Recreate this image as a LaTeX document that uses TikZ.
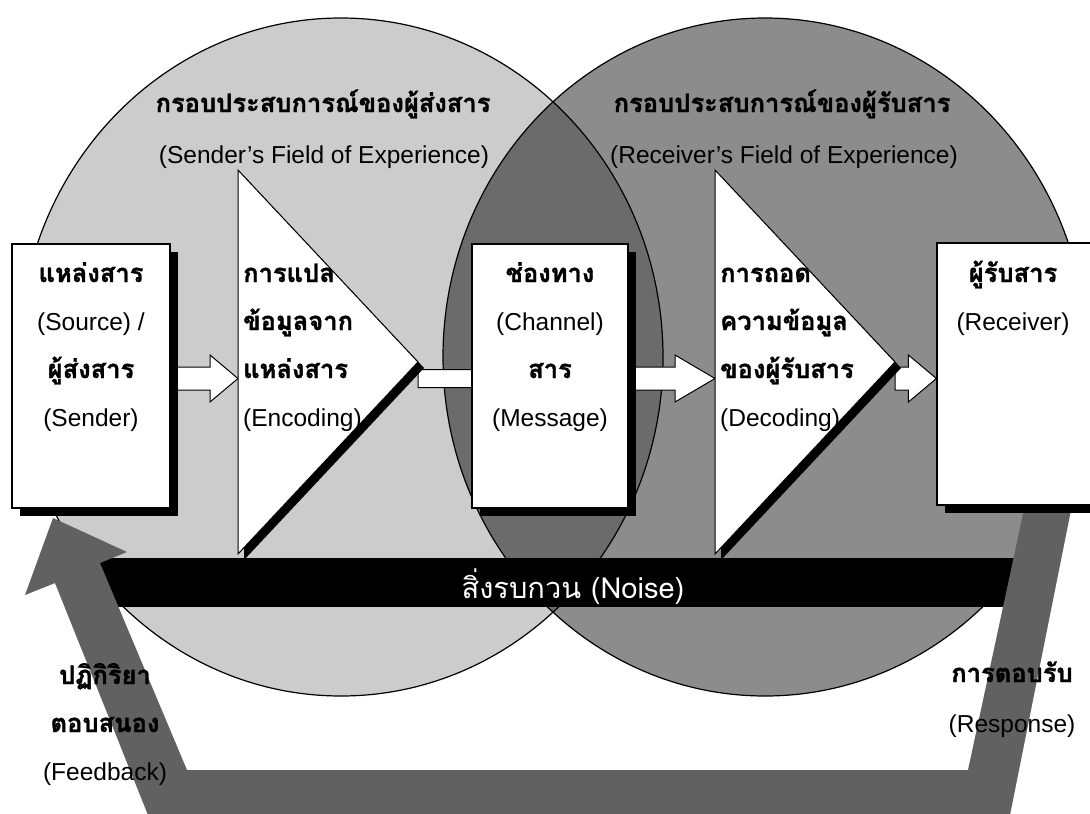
\documentclass[tikz,border=0pt]{standalone}
\usepackage{fontspec}
\setmainfont{Liberation Sans}
\newfontfamily\thaifont[Script=Thai, BoldFeatures={FakeBold=1.3}]{Loma}
\usetikzlibrary{calc,shadows}

\definecolor{senderfield}{gray}{0.80}
\definecolor{receiverfield}{gray}{0.55}
\definecolor{sharedfield}{gray}{0.42}
\definecolor{loopband}{gray}{0.38}

\newcommand{\thaibold}{\thaifont\bfseries\fontsize{25.5}{30}\selectfont}
\newcommand{\latinreg}{\fontsize{24.5}{30}\selectfont}
\newcommand{\noisefont}{\thaifont\fontsize{29}{34}\selectfont}

\tikzset{
  shaft half/.initial=11.5pt,
  head half/.initial=23.5pt,
  head length/.initial=28pt,
  blockarrow/.style={fill=white, draw=black, line width=1pt, line join=miter,
    to path={let \p1=(\tikztostart), \p2=(\tikztotarget) in
      ({\x1},{\y1+\pgfkeysvalueof{/tikz/shaft half}})
      -- ({\x2-\pgfkeysvalueof{/tikz/head length}},{\y1+\pgfkeysvalueof{/tikz/shaft half}})
      -- ({\x2-\pgfkeysvalueof{/tikz/head length}},{\y1+\pgfkeysvalueof{/tikz/head half}})
      -- ({\x2},{\y1})
      -- ({\x2-\pgfkeysvalueof{/tikz/head length}},{\y1-\pgfkeysvalueof{/tikz/head half}})
      -- ({\x2-\pgfkeysvalueof{/tikz/head length}},{\y1-\pgfkeysvalueof{/tikz/shaft half}})
      -- ({\x1},{\y1-\pgfkeysvalueof{/tikz/shaft half}}) -- cycle}},
  panel/.style={draw=black, line width=1.2pt, fill=white, inner sep=0pt,
    drop shadow={shadow xshift=8pt, shadow yshift=-8pt, fill=black, opacity=1}},
  funnel/.style={fill=white, draw=black, line width=1pt, line join=miter},
  funnelshade/.style={fill=black},
  fieldline/.style={draw=black, line width=1.2pt},
  thl/.style={font=\thaibold, inner sep=0pt, anchor=base},
  enl/.style={font=\latinreg, inner sep=0pt, anchor=base},
}

\begin{document}
\begin{tikzpicture}[x=1pt,y=-1pt]
\useasboundingbox (0,0) rectangle (1090,814);
\fill[white] (0,0) rectangle (1090,814);

% fields of experience
\coordinate (sfc) at (341,357);
\coordinate (rfc) at (765,357);
\fill[senderfield] (sfc) ellipse [x radius=322pt, y radius=339pt];
\fill[receiverfield] (rfc) ellipse [x radius=322pt, y radius=339pt];
\begin{scope}
  \clip (sfc) ellipse [x radius=322pt, y radius=339pt];
  \fill[sharedfield] (rfc) ellipse [x radius=322pt, y radius=339pt];
\end{scope}
\draw[fieldline] (sfc) ellipse [x radius=322pt, y radius=339pt];
\draw[fieldline] (rfc) ellipse [x radius=322pt, y radius=339pt];

\node[thl] (sendTitle) at (323,112) {กรอบประสบการณ์ของผู้ส่งสาร};
\node[enl] (sendTitleEn) at (324,163) {(Sender's Field of Experience)};
\node[thl] (recvTitle) at (782,112) {กรอบประสบการณ์ของผู้รับสาร};
\node[enl] (recvTitleEn) at (784,163) {(Receiver's Field of Experience)};

% noise bar
\node[fill=black, minimum width=940pt, minimum height=49pt, inner sep=0pt] (noise) at (560,582.5) {};
\node[font=\noisefont, text=white, inner sep=0pt, anchor=base] (noiseTxt) at (573,598) {สิ่งรบกวน (Noise)};

% feedback loop band
\fill[loopband] (53,518) -- (127,552) -- (100,563) -- (187,770) -- (968,770)
  -- (1026,500) -- (1073,500) -- (1007,830) -- (154,830) -- (55,583) -- (25,595) -- cycle;

% encoding / decoding funnels
\coordinate (encT) at (238,170);
\coordinate (encA) at (418,362);
\coordinate (encB) at (238,554);
\coordinate (decT) at (715,170);
\coordinate (decA) at (895,362);
\coordinate (decB) at (715,554);
\coordinate (encIn) at (238,378.5);
\coordinate (decIn) at (715,378.5);

% boxes
\node[panel, minimum width=158pt, minimum height=264pt] (src) at (91,376) {};
\node[panel, minimum width=156pt, minimum height=264pt] (chn) at (550,376) {};
\node[panel, minimum width=158pt, minimum height=262pt] (rcv) at (1016,374) {};

% arrows (drawn under the shapes they leave and enter)
\draw[blockarrow] (src.east |- encIn) to (encIn);
\draw[blockarrow, shaft half=9pt, head half=20pt] (encA |- encIn) to (chn.center |- encIn);
\draw[blockarrow, head length=40pt] (chn.east |- decIn) to (decIn);
\draw[blockarrow] (decA |- decIn) to (rcv.west |- decIn);

% redraw boxes on top of the arrow tails
\node[panel, minimum width=158pt, minimum height=264pt] (srcTop) at (src) {};
\node[panel, minimum width=156pt, minimum height=264pt] (chnTop) at (chn) {};
\node[panel, minimum width=158pt, minimum height=262pt] (rcvTop) at (rcv) {};

\fill[funnelshade] ([shift={(6pt,-6pt)}]encT) -- ([shift={(6pt,-6pt)}]encA) -- ([shift={(6pt,-6pt)}]encB) -- cycle;
\draw[funnel] (encT) -- (encA) -- (encB) -- cycle;
\fill[funnelshade] ([shift={(6pt,-6pt)}]decT) -- ([shift={(6pt,-6pt)}]decA) -- ([shift={(6pt,-6pt)}]decB) -- cycle;
\draw[funnel] (decT) -- (decA) -- (decB) -- cycle;

% source text
\node[thl] (srcL1) at (91,282) {แหล่งสาร};
\node[enl] (srcL2) at (91,330) {(Source) /};
\node[thl] (srcL3) at (91,378) {ผู้ส่งสาร};
\node[enl] (srcL4) at (91,426) {(Sender)};

% encoding text
\node[thl, anchor=base west] (encL1) at (243,282) {การแปล};
\node[thl, anchor=base west] (encL2) at (243,330) {ข้อมูลจาก};
\node[thl, anchor=base west] (encL3) at (243,378) {แหล่งสาร};
\node[enl, anchor=base west] (encL4) at (243,426) {(Encoding)};

% channel text
\node[thl] (chnL1) at (550,282) {ช่องทาง};
\node[enl] (chnL2) at (550,330) {(Channel)};
\node[thl] (chnL3) at (550,378) {สาร};
\node[enl] (chnL4) at (550,426) {(Message)};

% decoding text
\node[thl, anchor=base west] (decL1) at (720,282) {การถอด};
\node[thl, anchor=base west] (decL2) at (720,330) {ความข้อมูล};
\node[thl, anchor=base west] (decL3) at (720,378) {ของผู้รับสาร};
\node[enl, anchor=base west] (decL4) at (720,426) {(Decoding)};

% receiver text
\node[thl] (rcvL1) at (1013,282) {ผู้รับสาร};
\node[enl] (rcvL2) at (1013,330) {(Receiver)};

% loop labels
\node[thl] (fbL1) at (105,684) {ปฏิกิริยา};
\node[thl] (fbL2) at (105,732) {ตอบสนอง};
\node[enl] (fbL3) at (105,780) {(Feedback)};
\node[thl] (rsL1) at (1012,682) {การตอบรับ};
\node[enl] (rsL2) at (1012,732) {(Response)};
\end{tikzpicture}
\end{document}
